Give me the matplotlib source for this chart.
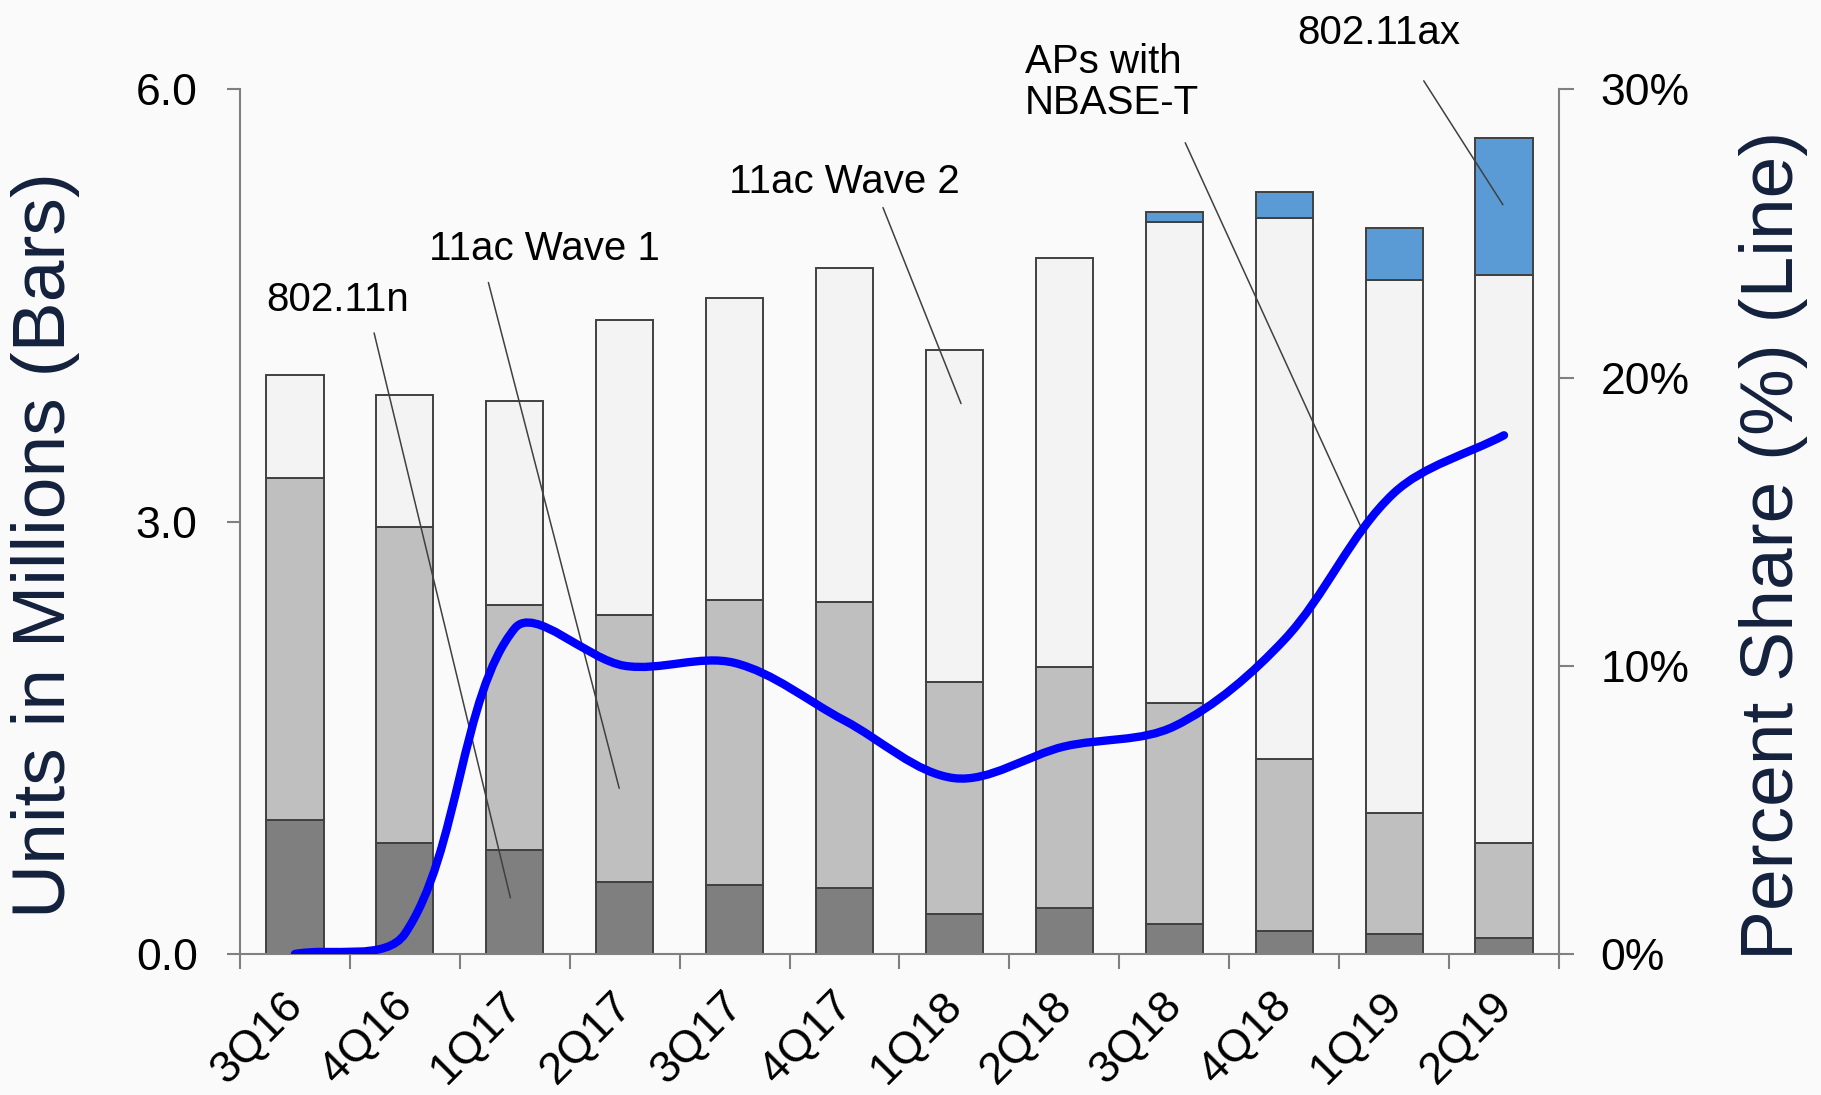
import matplotlib
matplotlib.use("Agg")
import matplotlib.pyplot as plt
import matplotlib.transforms as mtransforms
from matplotlib.path import Path
from matplotlib.patches import PathPatch
from matplotlib.ticker import FixedLocator, FuncFormatter

plt.rcParams['font.family'] = ['Liberation Sans', 'DejaVu Sans']

# Data (units in millions, stacked)
quarters = ['3Q16', '4Q16', '1Q17', '2Q17', '3Q17', '4Q17',
            '1Q18', '2Q18', '3Q18', '4Q18', '1Q19', '2Q19']
n_11 = [0.93, 0.77, 0.72, 0.50, 0.48, 0.46, 0.28, 0.32, 0.21, 0.16, 0.14, 0.11]
ac_wave1 = [2.37, 2.19, 1.70, 1.85, 1.98, 1.98, 1.61, 1.67, 1.53, 1.19, 0.84, 0.66]
ac_wave2 = [0.72, 0.92, 1.42, 2.05, 2.09, 2.32, 2.30, 2.84, 3.34, 3.76, 3.70, 3.94]
ax_11 = [0, 0, 0, 0, 0, 0, 0, 0, 0.07, 0.18, 0.36, 0.95]
# percent share of APs with NBASE-T (line)
nbase_t = [0.0, 0.7, 11.3, 10.0, 10.1, 8.1, 6.1, 7.2, 7.9, 10.9, 16.0, 18.0]

bg = '#fafafa'
grey_ax = '#808080'
label_col = '#14213d'

fig = plt.figure(figsize=(18.21, 10.95), dpi=100, facecolor=bg)
ax = fig.add_axes([0.1318, 0.1288, 0.7243, 0.7895])
ax.set_facecolor(bg)

x = list(range(len(quarters)))
bw = 0.52
edge = dict(edgecolor='#404040', linewidth=1.4)
ax.bar(x, n_11, bw, color='#7f7f7f', **edge)
bot = list(n_11)
ax.bar(x, ac_wave1, bw, bottom=bot, color='#bfbfbf', **edge)
bot = [a + b for a, b in zip(bot, ac_wave1)]
ax.bar(x, ac_wave2, bw, bottom=bot, color='#f3f3f3', **edge)
bot = [a + b for a, b in zip(bot, ac_wave2)]
idx = [i for i, v in enumerate(ax_11) if v > 0]
ax.bar([x[i] for i in idx], [ax_11[i] for i in idx], bw,
       bottom=[bot[i] for i in idx], color='#5b9bd5', **edge)

ax.set_xlim(-0.5, 11.5)
ax.set_ylim(0, 6)
ax.set_yticks([0, 3, 6])
ax.yaxis.set_major_formatter(FuncFormatter(lambda v, p: f'{v:.1f}'))
ax.tick_params(axis='y', direction='out', length=9.5, width=1.5, color=grey_ax,
               labelsize=32, pad=21)

ax.xaxis.set_major_locator(FixedLocator([i - 0.5 for i in range(13)]))
ax.xaxis.set_minor_locator(FixedLocator(x))
ax.set_xticklabels([], minor=False)
ax.set_xticklabels(quarters, minor=True, rotation=45, ha='right',
                   rotation_mode='anchor')
ax.tick_params(axis='x', which='major', direction='out', length=11, width=1.5,
               color=grey_ax)
ax.tick_params(axis='x', which='minor', length=0, labelsize=32.5, pad=22)
shift = mtransforms.ScaledTranslation(-13 / 100, 0, fig.dpi_scale_trans)
for t in ax.get_xticklabels(minor=True):
    t.set_transform(t.get_transform() + shift)

for s in ['top', 'right']:
    ax.spines[s].set_visible(False)
for s in ['left', 'bottom']:
    ax.spines[s].set_color(grey_ax)
    ax.spines[s].set_linewidth(1.5)

# secondary axis for the percent share line
ax2 = ax.twinx()
ax2.set_ylim(0, 30)
ax2.set_yticks([0, 10, 20, 30])
ax2.yaxis.set_major_formatter(FuncFormatter(lambda v, p: f'{v:.0f}%'))
ax2.tick_params(axis='y', direction='out', length=11, width=1.5, color=grey_ax,
                labelsize=32, pad=19)
for s in ['top', 'left', 'bottom']:
    ax2.spines[s].set_visible(False)
ax2.spines['right'].set_color(grey_ax)
ax2.spines['right'].set_linewidth(1.5)

# smoothed line: cubic bezier through the points, tangents weighted by
# on-screen segment length (spreadsheet-style smoothing)
pts = list(zip(x, nbase_t))
scr = ax2.transData.transform(pts)


def dist(i, j):
    return ((scr[i][0] - scr[j][0]) ** 2 + (scr[i][1] - scr[j][1]) ** 2) ** 0.5


last = len(pts) - 1
verts = [pts[0]]
codes = [Path.MOVETO]
for i in range(last):
    a, b = max(i - 1, 0), min(i + 2, last)
    d_prev, d_seg, d_next = dist(a, i), dist(i, i + 1), dist(i + 1, b)
    k1 = d_seg / (d_prev + d_seg) / 3
    k2 = d_seg / (d_seg + d_next) / 3
    c1 = (pts[i][0] + (pts[i + 1][0] - pts[a][0]) * k1,
          pts[i][1] + (pts[i + 1][1] - pts[a][1]) * k1)
    c2 = (pts[i + 1][0] - (pts[b][0] - pts[i][0]) * k2,
          pts[i + 1][1] - (pts[b][1] - pts[i][1]) * k2)
    verts += [c1, c2, pts[i + 1]]
    codes += [Path.CURVE4] * 3
ax2.add_patch(PathPatch(Path(verts, codes), fill=False, edgecolor='#0000ff',
                        linewidth=6, capstyle='round', zorder=5))

# callouts
lab = dict(fontsize=29, color='black')
line = dict(arrowstyle='-', color='#404040', lw=1.1, shrinkA=0, shrinkB=0)
ax.text(0.39, 4.54, '802.11n', ha='center', va='center', **lab)
ax.annotate('', xy=(1.96, 0.39), xytext=(0.72, 4.31), arrowprops=line)
ax.text(2.27, 4.89, '11ac Wave 1', ha='center', va='center', **lab)
ax.annotate('', xy=(2.95, 1.15), xytext=(1.76, 4.66), arrowprops=line)
ax.text(5.0, 5.36, '11ac Wave 2', ha='center', va='center', **lab)
ax.annotate('', xy=(6.06, 3.82), xytext=(5.35, 5.18), arrowprops=line)
ax.text(6.64, 6.05, 'APs with\nNBASE-T', ha='left', va='center',
        linespacing=1.1, **lab)
ax.annotate('', xy=(9.7, 2.96), xytext=(8.1, 5.63), arrowprops=line,
            annotation_clip=False)
ax.text(9.86, 6.39, '802.11ax', ha='center', va='center', **lab)
ax.annotate('', xy=(10.99, 5.2), xytext=(10.27, 6.06), arrowprops=line,
            annotation_clip=False)

fig.text(46 / 1821, 1 - 545 / 1095, 'Units in Millions (Bars)', rotation=90,
         ha='center', va='center', fontsize=54, color=label_col)
fig.text(1774 / 1821, 1 - 545 / 1095, 'Percent Share (%) (Line)', rotation=90,
         ha='center', va='center', fontsize=54, color=label_col)

fig.savefig('out.png', dpi=100, facecolor=bg)
